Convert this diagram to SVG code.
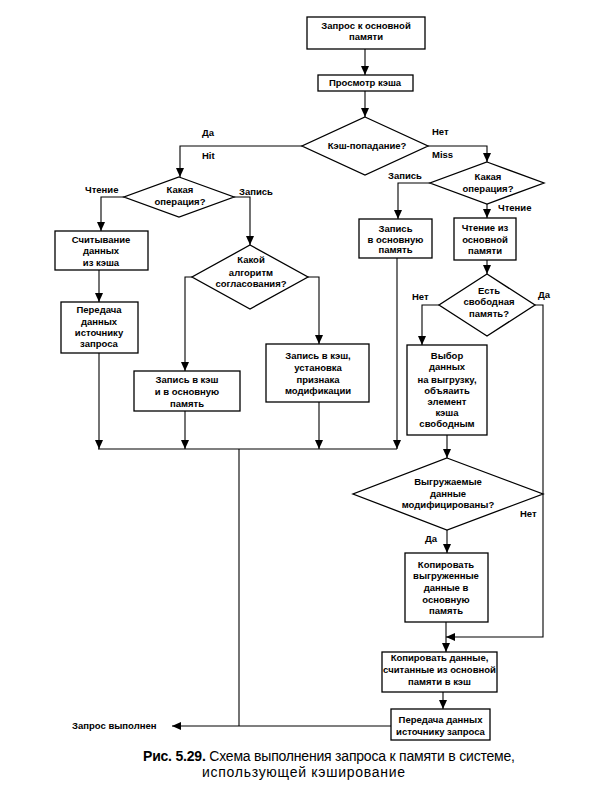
<svg xmlns="http://www.w3.org/2000/svg" width="596" height="790" viewBox="0 0 596 790">
<defs>
<marker id="ah" markerUnits="userSpaceOnUse" markerWidth="9" markerHeight="8" refX="9" refY="4" orient="auto">
<path d="M0,0 L9,4 L0,8 Z" fill="#000"/>
</marker>
<style>
.b{fill:#fff;stroke:#000;stroke-width:1.3}
.t{font-family:"Liberation Sans",Arial,sans-serif;font-size:9.5px;font-weight:bold;text-anchor:middle;fill:#000}
.l{font-family:"Liberation Sans",Arial,sans-serif;font-size:9.5px;font-weight:bold;fill:#000}
.c{fill:none;stroke:#000;stroke-width:1.1}
.a{fill:none;stroke:#000;stroke-width:1.1;marker-end:url(#ah)}
.cap{font-family:"Liberation Sans",Arial,sans-serif;font-size:14px;fill:#000}
</style>
</defs>
<rect width="596" height="790" fill="#fff"/>
<g id="connectors">
<path class="a" d="M365,49 V75"/>
<path class="a" d="M365,91 V117"/>
<path class="a" d="M302,146 H180 V177"/>
<path class="a" d="M428,146 H487 V162"/>
<path class="a" d="M124,197 H101 V231"/>
<path class="a" d="M234,197 H250 V245"/>
<path class="a" d="M99,270 V302"/>
<path class="a" d="M99,353 V449"/>
<path class="a" d="M192,277 H185 V371"/>
<path class="a" d="M308,277 H319 V344"/>
<path class="a" d="M185,411 V449"/>
<path class="a" d="M319,402 V449"/>
<path class="a" d="M430,183 H398 V219"/>
<path class="a" d="M397,258 V449"/>
<path class="c" d="M98,449 H397"/>
<path class="c" d="M239,449 V726"/>
<path class="a" d="M487,204 V218"/>
<path class="a" d="M487,260 V274"/>
<path class="a" d="M439,305 H422 V345"/>
<path class="a" d="M535,305 H543 V637 H446"/>
<path class="a" d="M447,435 V458"/>
<path class="a" d="M447,530 V553"/>
<path class="a" d="M446,622 V652"/>
<path class="a" d="M443,692 V709"/>
<path class="a" d="M391,726 H172"/>
</g>
<g id="labels">
<text class="l" x="202" y="136">Да</text>
<text class="l" x="202" y="159">Hit</text>
<text class="l" x="432" y="135">Нет</text>
<text class="l" x="432" y="158">Miss</text>
<text class="l" x="85" y="193">Чтение</text>
<text class="l" x="239" y="195">Запись</text>
<text class="l" x="388" y="179">Запись</text>
<text class="l" x="498" y="211">Чтение</text>
<text class="l" x="412" y="300">Нет</text>
<text class="l" x="538" y="298">Да</text>
<text class="l" x="520" y="517">Нет</text>
<text class="l" x="425" y="542">Да</text>
<text class="l" x="72" y="729">Запрос выполнен</text>
</g>
<g id="n1"><rect class="b" x="307" y="17" width="118" height="32"/><text class="t" x="366" y="28.5">Запрос к основной</text><text class="t" x="366" y="39.5">памяти</text></g>
<g id="n2"><rect class="b" x="318" y="75" width="95" height="16"/><text class="t" x="365" y="86.4">Просмотр кэша</text></g>
<g id="d1"><polygon class="b" points="365,117 428,146 365,175 302,146"/><text class="t" x="367" y="149.4">Кэш-попадание?</text></g>
<g id="d2"><polygon class="b" points="179,177 234,197 179,217 124,197"/><text class="t" x="180" y="193.4">Какая</text><text class="t" x="180" y="205">операция?</text></g>
<g id="n3"><rect class="b" x="55" y="231" width="93" height="39"/><text class="t" x="101" y="243.4">Считывание</text><text class="t" x="101" y="254.4">данных</text><text class="t" x="101" y="265.6">из кэша</text></g>
<g id="n4"><rect class="b" x="61" y="302" width="77" height="51"/><text class="t" x="99" y="312.7">Передача</text><text class="t" x="99" y="324.9">данных</text><text class="t" x="99" y="336">источнику</text><text class="t" x="99" y="346.7">запроса</text></g>
<g id="d3"><polygon class="b" points="250,245 308,277 250,309 192,277"/><text class="t" x="251" y="263.4">Какой</text><text class="t" x="251" y="276">алгоритм</text><text class="t" x="251" y="287.4">согласования?</text></g>
<g id="n5"><rect class="b" x="134" y="371" width="106" height="40"/><text class="t" x="187" y="382.7">Запись в кэш</text><text class="t" x="187" y="395">и в основную</text><text class="t" x="187" y="406.6">память</text></g>
<g id="n6"><rect class="b" x="266" y="344" width="103" height="58"/><text class="t" x="318" y="359.4">Запись в кэш,</text><text class="t" x="318" y="371">установка</text><text class="t" x="318" y="382.6">признака</text><text class="t" x="318" y="394">модификации</text></g>
<g id="d4"><polygon class="b" points="487,162 544,183 487,204 430,183"/><text class="t" x="488" y="180">Какая</text><text class="t" x="488" y="191.6">операция?</text></g>
<g id="n7"><rect class="b" x="359" y="219" width="73" height="39"/><text class="t" x="395.5" y="231.6">Запись</text><text class="t" x="395.5" y="243.3">в основную</text><text class="t" x="395.5" y="253.4">память</text></g>
<g id="n8"><rect class="b" x="454" y="218" width="62" height="42"/><text class="t" x="485" y="231.4">Чтение из</text><text class="t" x="485" y="243">основной</text><text class="t" x="485" y="254">памяти</text></g>
<g id="d5"><polygon class="b" points="487,274 535,305 487,336 439,305"/><text class="t" x="489" y="294">Есть</text><text class="t" x="489" y="305">свободная</text><text class="t" x="489" y="317.3">память?</text></g>
<g id="n9"><rect class="b" x="407" y="345" width="80" height="90"/><text class="t" x="447" y="359">Выбор</text><text class="t" x="447" y="370">данных</text><text class="t" x="447" y="382.6">на выгрузку,</text><text class="t" x="447" y="394">объяаить</text><text class="t" x="447" y="405.3">элемент</text><text class="t" x="447" y="416.3">кэша</text><text class="t" x="447" y="427.3">свободным</text></g>
<g id="d6"><polygon class="b" points="447,458 543,494 447,530 353,494"/><text class="t" x="448" y="485">Выгружаемые</text><text class="t" x="448" y="496.6">данные</text><text class="t" x="448" y="508.3">модифицированы?</text></g>
<g id="n10"><rect class="b" x="405" y="553" width="83" height="69"/><text class="t" x="446" y="568.3">Копировать</text><text class="t" x="446" y="579.3">выгруженные</text><text class="t" x="446" y="591">данные в</text><text class="t" x="446" y="602.6">основную</text><text class="t" x="446" y="614.3">память</text></g>
<g id="n11"><rect class="b" x="382" y="652" width="115" height="40"/><text class="t" x="439.5" y="661.3">Копировать данные,</text><text class="t" x="439.5" y="673.3">считанные из основной</text><text class="t" x="439.5" y="685.3">памяти в кэш</text></g>
<g id="n12"><rect class="b" x="391" y="709" width="99" height="31"/><text class="t" x="440.5" y="723.3">Передача данных</text><text class="t" x="440.5" y="734.6">источнику запроса</text></g>
<g id="caption">
<text class="cap" x="143" y="761" textLength="372" lengthAdjust="spacing"><tspan font-weight="bold">Рис. 5.29.</tspan> Схема выполнения запроса к памяти в системе,</text>
<text class="cap" x="202" y="777" textLength="203" lengthAdjust="spacing">использующей кэширование</text>
</g>
</svg>
